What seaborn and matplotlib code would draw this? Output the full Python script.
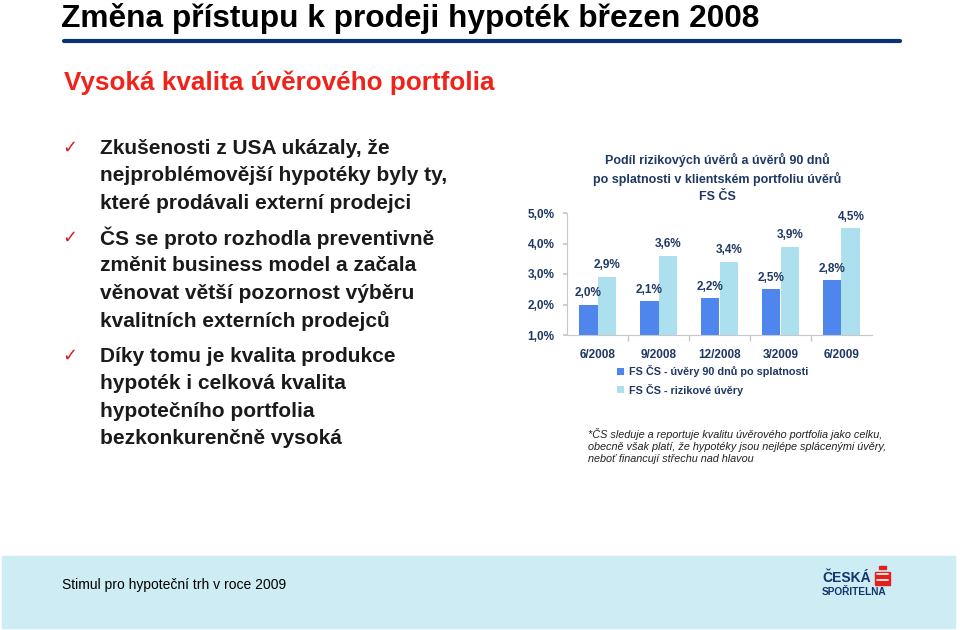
import matplotlib
matplotlib.use("Agg")
import matplotlib.pyplot as plt
from matplotlib.patches import Rectangle
from matplotlib.lines import Line2D
import pandas as pd
import seaborn as sns

# chart data
periods = ["6/2008", "9/2008", "12/2008", "3/2009", "6/2009"]
series_names = ["FS ČS - úvěry 90 dnů po splatnosti", "FS ČS - rizikové úvěry"]
overdue_90 = [2.0, 2.1, 2.2, 2.5, 2.8]
risky = [2.9, 3.6, 3.4, 3.9, 4.5]
y_ticks = [1.0, 2.0, 3.0, 4.0, 5.0]

# slide texts
title = "Změna přístupu k prodeji hypoték březen 2008"
subtitle = "Vysoká kvalita úvěrového portfolia"
bullets = [
    ["Zkušenosti z USA ukázaly, že", "nejproblémovější hypotéky byly ty,",
     "které prodávali externí prodejci"],
    ["ČS se proto rozhodla preventivně", "změnit business model a začala",
     "věnovat větší pozornost výběru", "kvalitních externích prodejců"],
    ["Díky tomu je kvalita produkce", "hypoték i celková kvalita",
     "hypotečního portfolia", "bezkonkurenčně vysoká"],
]
chart_title = "Podíl rizikových úvěrů a úvěrů 90 dnů\npo splatnosti v klientském portfoliu úvěrů\nFS ČS"
footnote = ("*ČS sleduje a reportuje kvalitu úvěrového portfolia jako celku,\n"
            "obecně však platí, že hypotéky jsou nejlépe splácenými úvěry,\n"
            "neboť financují střechu nad hlavou")
footer = "Stimul pro hypoteční trh v roce 2009"

sns.set_theme(style="white")
plt.rcParams["font.family"] = ["Liberation Sans", "DejaVu Sans"]

NAVY = "#1F3864"
DARK = "#4F86EE"
LIGHT = "#ADE0EE"

W, H = 960, 630
fig = plt.figure(figsize=(9.6, 6.3), dpi=100)


def fx(x):
    return x / W


def fy(y):
    return 1 - y / H


# header
fig.text(fx(61), fy(27), title, fontsize=22.8, weight="bold", color="black",
         va="baseline", ha="left")
fig.add_artist(Line2D([fx(64), fx(900)], [fy(41), fy(41)], color="#0B3370",
                      lw=3, transform=fig.transFigure))
fig.text(fx(64), fy(83), subtitle, fontsize=18.8, weight="bold", color="#F0231B",
         va="center", ha="left")

# bullets
starts = [148, 238, 356]
for y0, lines in zip(starts, bullets):
    fig.text(fx(62), fy(y0), "✓", fontsize=13, color="#D91E1E",
             family="DejaVu Sans", va="center", ha="left")
    for i, line in enumerate(lines):
        fig.text(fx(100), fy(y0 + i * 27.6), line, fontsize=15,
                 weight="bold", color="#1A1A1A", va="center", ha="left")

# bar chart
df = pd.DataFrame({
    "period": periods * 2,
    "value": overdue_90 + risky,
    "series": [series_names[0]] * len(periods) + [series_names[1]] * len(periods),
})
ax = fig.add_axes([fx(567), fy(335), fx(305), 122 / H])
sns.barplot(data=df, x="period", y="value", hue="series", ax=ax,
            palette=[DARK, LIGHT], width=0.62, gap=0, saturation=1,
            edgecolor="none")
ax.set_ylim(1, 5)
ax.set_xlim(-0.5, len(periods) - 0.5)
ax.set_yticks(y_ticks)
ax.set_yticklabels([f"{v:.1f}%".replace(".", ",") for v in y_ticks])
ax.set_xlabel("")
ax.set_ylabel("")
for s in ["top", "right"]:
    ax.spines[s].set_visible(False)
for s in ["left", "bottom"]:
    ax.spines[s].set_color("#C8C8C8")
    ax.spines[s].set_linewidth(0.8)
ax.tick_params(axis="y", left=True, length=3, color="#C8C8C8", pad=6,
               labelsize=8.5, labelcolor=NAVY)
ax.tick_params(axis="x", which="major", bottom=False, length=0, pad=10,
               labelsize=8.5, labelcolor=NAVY)
ax.set_xticks([i + 0.5 for i in range(len(periods) - 1)], minor=True)
ax.tick_params(axis="x", which="minor", bottom=True, length=4, color="#C8C8C8")
for lab in ax.get_xticklabels() + ax.get_yticklabels():
    lab.set_fontweight("bold")
for cont in ax.containers:
    ax.bar_label(cont, labels=[f"{v:.1f}%".replace(".", ",") for v in cont.datavalues],
                 padding=4, fontsize=8.5, fontweight="bold", color=NAVY)

ax.legend(loc="upper left", bbox_to_anchor=(fx(617), fy(365)),
          bbox_transform=fig.transFigure, frameon=False, handlelength=0.6,
          handleheight=0.6, handletextpad=0.5, labelspacing=0.6,
          prop={"size": 7.8, "weight": "bold"}, labelcolor=NAVY,
          borderpad=0, borderaxespad=0)

fig.text(fx(717), fy(178), chart_title, fontsize=9, weight="bold", color=NAVY,
         ha="center", va="center", linespacing=1.45)
fig.text(fx(588), fy(446), footnote, fontsize=7.8, style="italic", color="#222222",
         ha="left", va="center", linespacing=1.3)

# footer band
fig.add_artist(Rectangle((fx(2), fy(628)), fx(953), 72 / H, color="#CDECF3",
                         transform=fig.transFigure, zorder=0))
fig.text(fx(62), fy(585), footer, fontsize=10, color="black",
         va="center", ha="left")
fig.text(fx(822), fy(578), "ČESKÁ", fontsize=10, weight="bold", color="#12356F",
         va="center", ha="left")
fig.text(fx(822), fy(592), "SPOŘITELNA", fontsize=7.3, weight="bold", color="#12356F",
         va="center", ha="left")
fig.add_artist(Rectangle((fx(875), fy(585)), fx(15), 13 / H, color="#E3211C",
                         transform=fig.transFigure))
for yy in (574, 580):
    fig.add_artist(Line2D([fx(877), fx(888)], [fy(yy), fy(yy)], color="white",
                          lw=1.2, transform=fig.transFigure))
fig.add_artist(Rectangle((fx(879), fy(569)), fx(7), 3 / H, color="#E3211C",
                         transform=fig.transFigure))

fig.savefig("out.png", dpi=100)
